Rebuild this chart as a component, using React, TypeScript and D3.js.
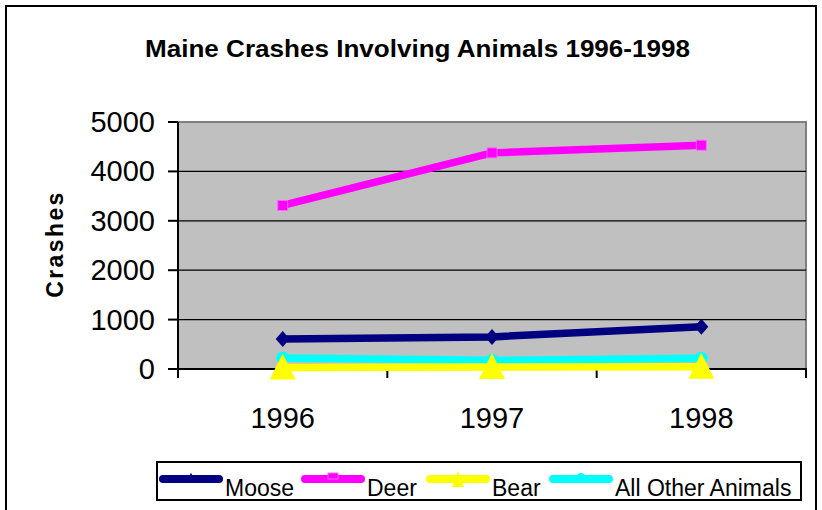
import React from "react";
import * as d3 from "d3";

const years = ["1996", "1997", "1998"];
const moose = [605, 650, 855];
const deer = [3310, 4375, 4530];
const bear = [30, 40, 45];
const other = [225, 175, 220];
const yTicks = [0, 1000, 2000, 3000, 4000, 5000];

const seriesNames = ["Moose", "Deer", "Bear", "All Other Animals"];
const seriesColors = ["#000080", "#FF00FF", "#FFFF00", "#00FFFF"];
const seriesMarkers = ["diamond", "square", "triangle", "circle"];

const W = 822, H = 510;
const left = 178, right = 806, top = 122, bottom = 369;

function Marker({ type, x, y, color }: { type: string; x: number; y: number; color: string }) {
  if (type === "diamond") {
    return <path d={`M${x - 7},${y} L${x},${y - 8} L${x + 7},${y} L${x},${y + 8} Z`} fill={color} />;
  }
  if (type === "square") {
    return <rect x={x - 5} y={y - 5} width={10} height={10} fill={color} stroke="#FF66FF" strokeWidth={1} />;
  }
  if (type === "triangle") {
    return <path d={`M${x},${y - 14} L${x + 13},${y + 12} L${x - 13},${y + 12} Z`} fill={color} />;
  }
  return <circle cx={x} cy={y} r={6.5} fill={color} />;
}

export default function App() {
  const x = d3.scaleBand<string>().domain(years).range([left, right]);
  const y = d3.scaleLinear().domain([0, 5000]).range([bottom, top]);
  const data = [moose, deer, bear, other];
  const line = d3
    .line<number>()
    .x((_, i) => (x(years[i]) as number) + x.bandwidth() / 2)
    .y((d) => y(d));
  const font = "Arial, 'Liberation Sans', sans-serif";
  const drawOrder = [1, 0, 3, 2];
  const legendItems = [
    { lx: 160, tx: 225 },
    { lx: 302, tx: 367 },
    { lx: 427, tx: 492 },
    { lx: 550, tx: 615 },
  ];
  return (
    <svg width={W} height={H} style={{ position: "absolute", left: 0, top: 0 }}>
      <rect x={0} y={0} width={W} height={H} fill="#fff" />
      <path d={`M6,${H + 5} L6,6 L816,6 L816,${H + 5}`} fill="none" stroke="#000" strokeWidth={2} />
      <text
        x={145}
        y={57}
        fontFamily={font}
        fontWeight="bold"
        fontSize={23.5}
        textLength={545}
        lengthAdjust="spacingAndGlyphs"
      >
        Maine Crashes Involving Animals 1996-1998
      </text>
      <rect x={left} y={top} width={right - left} height={bottom - top} fill="#C0C0C0" stroke="#808080" strokeWidth={2} />
      {yTicks.slice(1, -1).map((t) => (
        <line key={t} x1={left} x2={right} y1={y(t)} y2={y(t)} stroke="#000" strokeWidth={1.2} />
      ))}
      <line x1={left} x2={left} y1={top} y2={bottom + 1} stroke="#000" strokeWidth={2} />
      <line x1={left - 1} x2={right + 1} y1={bottom} y2={bottom} stroke="#000" strokeWidth={2} />
      {yTicks.map((t) => (
        <g key={t}>
          <line x1={left - 10} x2={left} y1={y(t)} y2={y(t)} stroke="#000" strokeWidth={2} />
          <text x={155} y={y(t) + 10} textAnchor="end" fontFamily={font} fontSize={29}>
            {t}
          </text>
        </g>
      ))}
      {[...years.map((yr) => x(yr) as number), right].map((v, i) => (
        <line key={i} x1={v} x2={v} y1={bottom} y2={bottom + 9} stroke="#000" strokeWidth={2} />
      ))}
      {years.map((yr) => (
        <text key={yr} x={(x(yr) as number) + x.bandwidth() / 2} y={428} textAnchor="middle" fontFamily={font} fontSize={29}>
          {yr}
        </text>
      ))}
      <text
        transform={`translate(63,244) rotate(-90)`}
        textAnchor="middle"
        fontFamily={font}
        fontWeight="bold"
        fontSize={23}
        letterSpacing={2.4}
      >
        Crashes
      </text>
      {drawOrder.map((s) => (
        <g key={s}>
          <path d={line(data[s]) as string} fill="none" stroke={seriesColors[s]} strokeWidth={7.5} strokeLinejoin="round" />
          {data[s].map((v, i) => (
            <Marker key={i} type={seriesMarkers[s]} x={(x(years[i]) as number) + x.bandwidth() / 2} y={y(v)} color={seriesColors[s]} />
          ))}
        </g>
      ))}
      <rect x={157} y={462} width={644} height={38} fill="#fff" stroke="#000" strokeWidth={2} />
      {seriesNames.map((n, s) => {
        const it = legendItems[s];
        const cx = it.lx + 31;
        return (
          <g key={n}>
            <line x1={it.lx + 3} x2={it.lx + 59} y1={479} y2={479} stroke={seriesColors[s]} strokeWidth={8} strokeLinecap="round" />
            {s === 0 && <path d={`M${cx - 4},479 L${cx},473 L${cx + 4},479 Z`} fill={seriesColors[0]} />}
            {s === 1 && <rect x={cx - 5} y={473} width={10} height={6} fill={seriesColors[1]} stroke="#FF66FF" />}
            {s === 2 && <path d={`M${cx},471 L${cx + 6},487 L${cx - 6},487 Z`} fill={seriesColors[2]} />}
            {s === 3 && <circle cx={cx} cy={477} r={4} fill={seriesColors[3]} />}
            <text x={it.tx} y={496} fontFamily={font} fontSize={23}>
              {n}
            </text>
          </g>
        );
      })}
    </svg>
  );
}
